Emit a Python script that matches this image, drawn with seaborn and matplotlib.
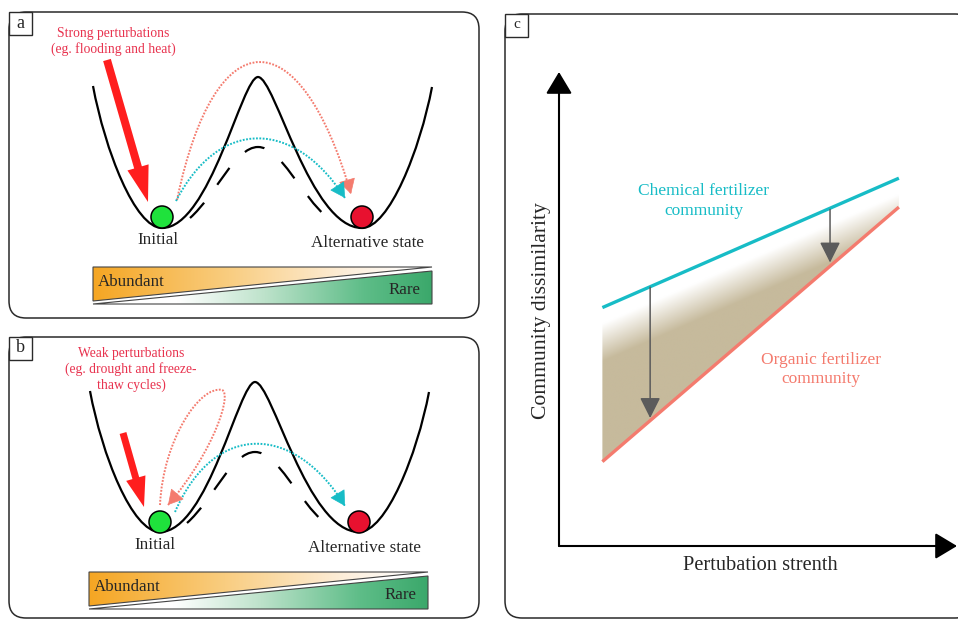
import numpy as np
import matplotlib
matplotlib.use("Agg")
import matplotlib.pyplot as plt
import seaborn as sns
import pandas as pd
from matplotlib.path import Path
from matplotlib.patches import PathPatch, FancyBboxPatch, Rectangle, Circle, Polygon
from matplotlib.colors import LinearSegmentedColormap, to_rgb

# ---------------- data ----------------
# Panel a / b : energy landscape (cubic Bezier anchor + control points)
landscape_a_x = [93, 105, 135, 162, 210, 242, 258, 275, 310, 362, 389, 420, 432]
landscape_a_y = [86, 150, 228, 228, 228, 77, 77, 77, 228, 228, 228, 150, 87]
landscape_b_x = [90, 102, 132, 160, 208, 239, 255, 272, 307, 359, 386, 417, 429]
landscape_b_y = [391, 455, 532, 532, 532, 382, 382, 382, 532, 532, 532, 455, 392]
# lowered (dashed) barrier
inner_a_x = [190, 215, 235, 258, 281, 301, 328]
inner_a_y = [218, 196, 147, 147, 147, 196, 218]
inner_b_x = [187, 212, 232, 255, 278, 298, 325]
inner_b_y = [523, 501, 452, 452, 452, 501, 523]
# dotted transition paths
red_arc_a_x = [177, 215, 300, 351]
red_arc_a_y = [200, 17, 17, 194]
cyan_arc_a_x = [176, 220, 295, 345]
cyan_arc_a_y = [201, 116, 120, 198]
red_loop_b_x = [160, 163, 200, 222, 232, 215, 168]
red_loop_b_y = [505, 440, 385, 390, 393, 450, 505]
cyan_arc_b_x = [175, 215, 295, 345]
cyan_arc_b_y = [512, 420, 424, 506]
# balls (initial / alternative)
ball_a_x = [162, 362]
ball_a_y = [217, 217]
ball_b_x = [160, 359]
ball_b_y = [522, 522]
# perturbation arrows (tail -> tip)
push_a = [(107, 60), (148, 202)]
push_b = [(123, 433), (144, 507)]

# Panel c
strength = [10.9, 85.4]
chemical = [50.3, 77.6]
organic = [17.8, 71.5]
arrow_strength = [22.9, 68.1]
arrow_from = [54.6, 71.0]
arrow_to = [27.0, 59.8]

# ---------------- style ----------------
sns.set_theme(style="white")
plt.rcParams["font.family"] = ["Liberation Serif", "DejaVu Serif"]
plt.rcParams["lines.scale_dashes"] = False

RED_TXT = "#E8334F"
RED = "#FF1E1E"
SALMON = "#F47B6E"
CYAN = "#17BCC6"
TAN = "#C6BA9C"
GREEN_BALL = "#1FE23C"
RED_BALL = "#E8112F"
EDGE = "#2a2a2a"

fig = plt.figure(figsize=(9.58, 6.2), dpi=100)
ax = fig.add_axes([0, 0, 1, 1])
ax.set_xlim(0, 958)
ax.set_ylim(620, 0)
ax.axis("off")


def bezier(xs, ys):
    verts = list(zip(xs, ys))
    codes = [Path.MOVETO] + [Path.CURVE4] * (len(verts) - 1)
    return Path(verts, codes)


def panel_box(x0, y0, x1, y1, label, fs):
    box = FancyBboxPatch((x0, y0), x1 - x0, y1 - y0,
                         boxstyle="round,pad=0,rounding_size=17",
                         fc="white", ec=EDGE, lw=1.1, zorder=1)
    ax.add_patch(box)
    ax.add_patch(Rectangle((x0, y0), 23, 23, fc="white", ec=EDGE, lw=1.0, zorder=6))
    ax.text(x0 + 11.5, y0 + 11, label, ha="center", va="center", fontsize=fs, zorder=7)


def arrow_head(xs, ys, color):
    tip = np.array([xs[-1], ys[-1]], float)
    prev = np.array([xs[-2], ys[-2]], float)
    d = (tip - prev) / np.linalg.norm(tip - prev)
    ax.annotate("", xy=tip, xytext=tip - d * 2,
                arrowprops=dict(arrowstyle="-|>,head_length=0.75,head_width=0.42",
                                mutation_scale=13, fc=color, ec=color, lw=0.5,
                                shrinkA=0, shrinkB=0), zorder=5)


def landscape_panel(lx, ly, ix, iy, balls_x, balls_y, push, arcs, bar, txt, txt_xy,
                    init_xy, alt_xy, head_w, head_l, shaft_w):
    ax.add_patch(PathPatch(bezier(lx, ly), fc="none", ec="black", lw=1.6, zorder=3))
    ax.add_patch(PathPatch(bezier(ix, iy), fc="none", ec="black", lw=1.6,
                           ls=(0, (15, 16)), capstyle="butt", zorder=3))
    for (xs, ys, col) in arcs:
        ax.add_patch(PathPatch(bezier(xs, ys), fc="none", ec=col, lw=1.4,
                               ls=(0, (1.3, 1.1)), zorder=4))
        arrow_head(xs, ys, col)
    for bx, by, c in zip(balls_x, balls_y, [GREEN_BALL, RED_BALL]):
        ax.add_patch(Circle((bx, by), 11, fc=c, ec="black", lw=1.1, zorder=5))
    (tx, ty), (hx, hy) = push
    ax.arrow(tx, ty, hx - tx, hy - ty, width=shaft_w, head_width=head_w,
             head_length=head_l, length_includes_head=True, fc=RED, ec="none", zorder=5)
    ax.text(txt_xy[0], txt_xy[1], txt, ha="center", va="center", color=RED_TXT,
            fontsize=9.8, linespacing=1.22, zorder=5)
    ax.text(init_xy[0], init_xy[1], "Initial", ha="center", va="center", fontsize=12.3)
    ax.text(alt_xy[0], alt_xy[1], "Alternative state", ha="center", va="center", fontsize=12.3)

    # abundance bar
    x0, x1, yt, yb = bar
    upper = Polygon([(x0, yt), (x1, yt), (x0, yb - 3)], closed=True, fc="none",
                    ec="#444444", lw=0.8, zorder=4)
    lower = Polygon([(x0, yb), (x1, yb), (x1, yt + 4)], closed=True, fc="none",
                    ec="#444444", lw=0.8, zorder=4)
    ax.add_patch(upper)
    ax.add_patch(lower)
    grad = np.linspace(0, 1, 256)[None, :]
    cm_o = LinearSegmentedColormap.from_list(
        "o", [(0, "#F5A623"), (0.4, "#F9CD80"), (0.75, "#FDEEDA"), (0.95, "#FFFFFF"), (1, "#FFFFFF")])
    cm_g = LinearSegmentedColormap.from_list(
        "g", [(0, "#FFFFFF"), (0.25, "#FFFFFF"), (0.5, "#BFE3CC"), (0.8, "#5EBD88"), (1, "#3BA86B")])
    im1 = ax.imshow(grad, cmap=cm_o, extent=[x0, x1, yb, yt], aspect="auto", zorder=2)
    im1.set_clip_path(upper)
    im2 = ax.imshow(grad, cmap=cm_g, extent=[x0, x1, yb, yt], aspect="auto", zorder=2)
    im2.set_clip_path(lower)
    ax.text(x0 + 5, yt + 15, "Abundant", ha="left", va="center", fontsize=12.2, zorder=5)
    ax.text(x1 - 11, yt + 23, "Rare", ha="right", va="center", fontsize=12.2, zorder=5)


# panel boxes
panel_box(9, 12, 479, 318, "a", 13)
panel_box(9, 337, 479, 618, "b", 13)
panel_box(505, 14, 972, 618, "c", 11)

landscape_panel(landscape_a_x, landscape_a_y, inner_a_x, inner_a_y, ball_a_x, ball_a_y, push_a,
                [(red_arc_a_x, red_arc_a_y, SALMON), (cyan_arc_a_x, cyan_arc_a_y, CYAN)],
                (93, 432, 267, 304),
                "Strong perturbations\n(eg. flooding and heat)", (113, 41.5),
                (158, 240), (368, 243), 22, 36, 8)
landscape_panel(landscape_b_x, landscape_b_y, inner_b_x, inner_b_y, ball_b_x, ball_b_y, push_b,
                [(red_loop_b_x, red_loop_b_y, SALMON), (cyan_arc_b_x, cyan_arc_b_y, CYAN)],
                (89, 428, 572, 609),
                "Weak perturbations\n(eg. drought and freeze-\nthaw cycles)", (131, 369.5),
                (155, 545), (365, 548), 20, 30, 7)

# ---------------- panel c ----------------
axc = fig.add_axes([559 / 958, (620 - 546) / 620, (957 - 559) / 958, (546 - 72) / 620])
axc.patch.set_alpha(0)

# shaded band between the two communities
band = Polygon([(strength[0], chemical[0]), (strength[1], chemical[1]),
                (strength[1], organic[1]), (strength[0], organic[0])],
               closed=True, fc="none", ec="none", transform=axc.transData)
axc.add_patch(band)
gx = np.linspace(strength[0], strength[1], 400)
gy = np.linspace(min(organic), max(chemical), 400)
GX, GY = np.meshgrid(gx, gy)
top = np.interp(GX, strength, chemical)
dist_px = (top - GY) * 4.74
t = np.clip((dist_px - 16) / 38, 0, 1)[..., None]
rgb = (1 - t) * np.ones(3) + t * np.array(to_rgb(TAN))
imc = axc.imshow(rgb, extent=[gx[0], gx[-1], gy[0], gy[-1]], origin="lower",
                 aspect="auto", zorder=1)
imc.set_clip_path(band)

df = pd.DataFrame({
    "strength": strength + strength,
    "dissimilarity": chemical + organic,
    "community": ["Chemical fertilizer"] * 2 + ["Organic fertilizer"] * 2,
})
sns.lineplot(data=df, x="strength", y="dissimilarity", hue="community",
             palette=[CYAN, SALMON], lw=2.4, legend=False, ax=axc, zorder=3,
             solid_capstyle="butt")
axc.set_xlim(0, 100)
axc.set_ylim(0, 100)
axc.axis("off")

for xs, y0, y1 in zip(arrow_strength, arrow_from, arrow_to):
    axc.annotate("", xy=(xs, y1), xytext=(xs, y0),
                 arrowprops=dict(arrowstyle="-|>,head_length=0.9,head_width=0.45",
                                 mutation_scale=14, color="#5b5b5b", lw=1.1,
                                 shrinkA=0, shrinkB=0), zorder=4)

# axes arrows
axc.annotate("", xy=(0, 100), xytext=(0, 0), annotation_clip=False,
             arrowprops=dict(arrowstyle="-|>,head_length=0.75,head_width=0.45",
                             mutation_scale=18, color="black", lw=1.5, shrinkA=0, shrinkB=0))
axc.annotate("", xy=(100, 0), xytext=(0, 0), annotation_clip=False,
             arrowprops=dict(arrowstyle="-|>,head_length=0.75,head_width=0.45",
                             mutation_scale=18, color="black", lw=1.5, shrinkA=0, shrinkB=0))

ax.text(704, 201, "Chemical fertilizer\ncommunity", ha="center", va="center",
        color=CYAN, fontsize=12.5, linespacing=1.3)
ax.text(821, 369.5, "Organic fertilizer\ncommunity", ha="center", va="center",
        color=SALMON, fontsize=12.5, linespacing=1.3)
ax.text(542, 311, "Community dissimilarity", rotation=90, ha="center", va="center",
        fontsize=15.6)
ax.text(760, 566, "Pertubation strenth", ha="center", va="center", fontsize=14.7)

fig.savefig("out.png", dpi=100)
